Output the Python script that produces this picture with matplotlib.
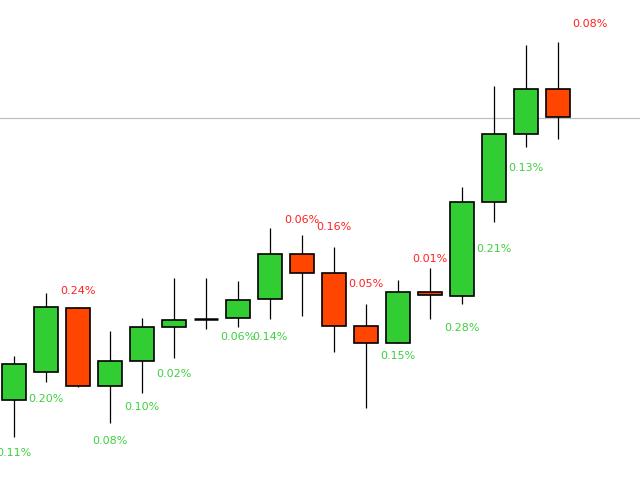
import matplotlib
matplotlib.use("Agg")
import matplotlib.pyplot as plt
import numpy as np

# candle data (price units, oldest first)
opens = [80, 108, 172, 94, 119, 153, 161, 162, 181, 226, 207, 154, 137, 188, 184, 278, 346, 391]
highs = [124, 187, 173, 149, 162, 202, 202, 199, 252, 245, 233, 176, 200, 212, 293, 394, 435, 438]
lows = [43, 98, 93, 57, 87, 122, 151, 153, 161, 164, 128, 72, 137, 161, 176, 258, 333, 341]
closes = [116, 173, 94, 119, 153, 160, 161, 180, 226, 207, 154, 137, 188, 185, 278, 346, 391, 363]

level = 362

# percentage labels: bar index, text, price position, up/down
label_idx = [0, 1, 2, 3, 4, 5, 7, 8, 9, 10, 11, 12, 13, 14, 15, 16, 18]
label_txt = ["0.11%", "0.20%", "0.24%", "0.08%", "0.10%", "0.02%", "0.06%", "0.14%",
             "0.06%", "0.16%", "0.05%", "0.15%", "0.01%", "0.28%", "0.21%", "0.13%", "0.08%"]
label_pos = [27, 81, 189, 39, 73, 106, 143, 143, 260, 253, 196, 124, 221, 152, 231, 312, 456]
label_up = [1, 1, 0, 1, 1, 1, 1, 1, 0, 0, 0, 1, 0, 1, 1, 1, 0]

GREEN = "#32CD32"
RED = "#FF4500"

fig = plt.figure(figsize=(6.4, 4.8), dpi=100)
ax = fig.add_axes([0, 0, 1, 1])
ax.set_xlim(-0.4375, 19.5625)
ax.set_ylim(0, 480)
ax.axis("off")

ax.axhline(level, color="#c0c0c0", lw=0.9, zorder=1)

x = np.arange(len(opens))
o = np.array(opens)
c = np.array(closes)

ax.vlines(x, lows, highs, color="black", lw=0.9, zorder=2)

for i in x:
    if o[i] == c[i]:
        ax.hlines(o[i], i - 0.375, i + 0.375, color="black", lw=1.8, zorder=3)
        continue
    col = GREEN if c[i] > o[i] else RED
    ax.bar(i, c[i] - o[i], bottom=o[i], width=0.75, color=col,
           edgecolor="black", linewidth=1.2, zorder=3)

for i, t, p, up in zip(label_idx, label_txt, label_pos, label_up):
    ax.text(i, p, t, color="#3fcf3f" if up else "#ff2020", fontsize=8,
            ha="center", va="center", zorder=4)

fig.savefig("out.png", dpi=100)
